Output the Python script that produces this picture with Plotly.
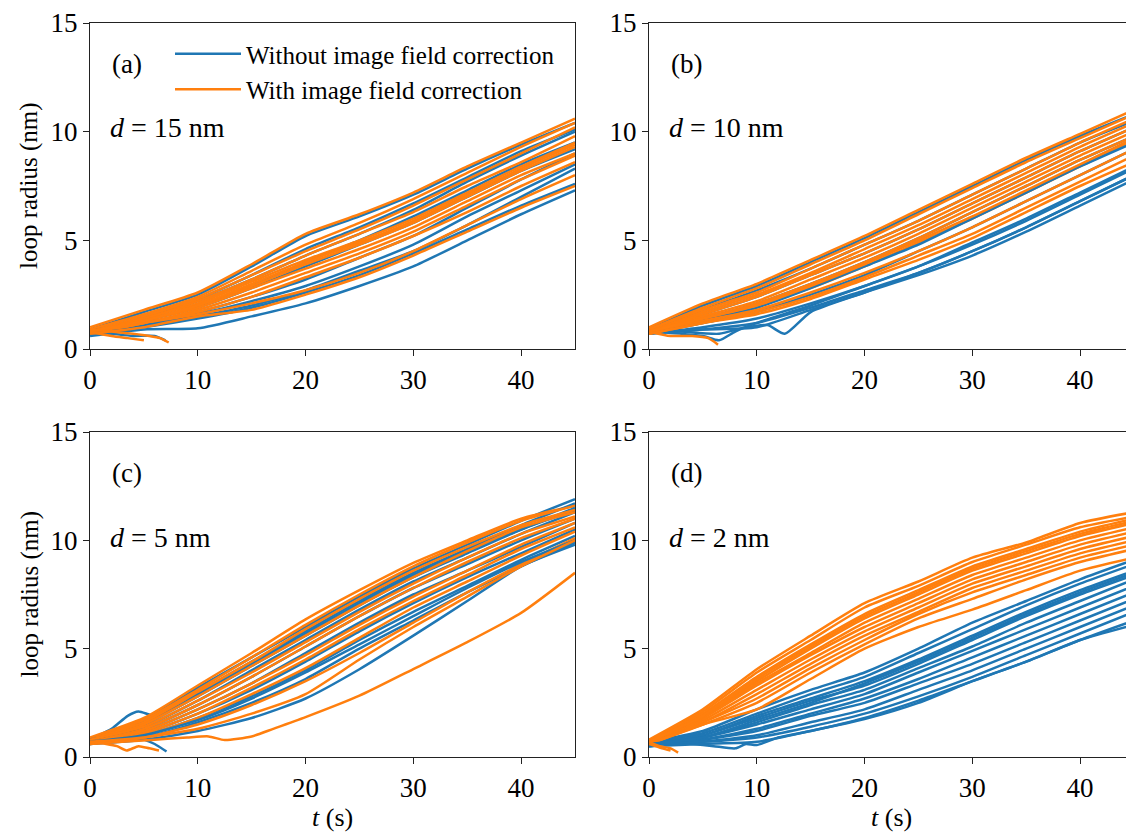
import plotly.graph_objects as go

BLUE = "#1f77b4"
ORANGE = "#ff7f0e"

# common time grid (s)
T_GRID = [0, 5, 10, 15, 20, 25, 30, 35, 40, 45]

# ---------------- panel (a) d = 15 nm ----------------
A_BLUE = [
    [0.9, 1.7, 2.5, 3.8, 5.2, 6.1, 7.1, 8.3, 9.4, 10.4],
    [0.8, 1.5, 2.3, 3.4, 4.6, 5.6, 6.7, 7.9, 9.1, 10.1],
    [0.8, 1.4, 2.2, 3.2, 4.3, 5.3, 6.4, 7.7, 8.9, 10.0],
    [0.7, 1.3, 2.0, 2.9, 4.0, 5.0, 6.1, 7.3, 8.5, 9.5],
    [0.7, 1.3, 1.9, 2.8, 3.8, 4.8, 5.8, 7.0, 8.2, 9.2],
    [0.8, 1.2, 1.7, 2.4, 3.2, 4.2, 5.2, 6.5, 7.8, 9.0],
    [0.7, 1.1, 1.6, 2.2, 2.9, 3.8, 4.8, 6.1, 7.3, 8.5],
    [0.7, 1.1, 1.5, 2.0, 2.7, 3.6, 4.5, 5.7, 7.0, 8.3],
    [0.6, 0.9, 0.95, 1.5, 2.1, 2.9, 3.8, 5.0, 6.2, 7.3],
    [0.7, 1.0, 1.4, 1.9, 2.6, 3.4, 4.4, 5.5, 6.6, 7.6],
]
A_ORANGE = [
    [1.0, 1.8, 2.6, 3.9, 5.3, 6.2, 7.2, 8.4, 9.5, 10.6],
    [0.9, 1.6, 2.4, 3.6, 4.8, 5.8, 6.9, 8.1, 9.3, 10.4],
    [0.8, 1.5, 2.3, 3.4, 4.5, 5.5, 6.6, 7.8, 9.0, 10.2],
    [0.8, 1.4, 2.2, 3.2, 4.3, 5.3, 6.3, 7.5, 8.6, 9.8],
    [0.7, 1.4, 2.1, 3.1, 4.1, 5.0, 6.0, 7.2, 8.4, 9.5],
    [0.8, 1.3, 2.0, 2.9, 3.9, 4.8, 5.8, 7.0, 8.2, 9.3],
    [0.7, 1.3, 1.9, 2.8, 3.7, 4.6, 5.6, 6.8, 8.0, 9.0],
    [0.7, 1.2, 1.8, 2.6, 3.5, 4.4, 5.4, 6.6, 7.8, 8.9],
    [0.7, 1.2, 1.7, 2.4, 3.3, 4.2, 5.2, 6.3, 7.5, 8.6],
    [0.8, 1.2, 1.6, 2.1, 2.7, 3.5, 4.5, 5.7, 6.9, 8.0],
    [0.7, 1.0, 1.5, 1.8, 2.5, 3.3, 4.3, 5.4, 6.5, 7.5],
    [0.8, 1.3, 2.0, 3.0, 4.0, 4.9, 5.9, 7.1, 8.3, 9.4],
]
A_BLUE_SHORT_T = [[0, 2, 4, 6, 7.0]]
A_BLUE_SHORT_R = [[0.8, 0.7, 0.6, 0.6, 0.4]]
A_ORANGE_SHORT_T = [[0, 2, 4, 5.5, 6.5, 7.3], [0, 2, 3.5, 5.0]]
A_ORANGE_SHORT_R = [[0.9, 0.8, 0.7, 0.6, 0.5, 0.3], [0.8, 0.6, 0.5, 0.4]]

# ---------------- panel (b) d = 10 nm ----------------
B_BLUE = [
    [0.9, 2.0, 2.9, 4.0, 5.1, 6.3, 7.5, 8.7, 9.8, 10.8],
    [0.8, 1.8, 2.7, 3.7, 4.8, 5.9, 7.1, 8.3, 9.5, 10.5],
    [0.8, 1.6, 2.4, 3.4, 4.4, 5.5, 6.7, 7.9, 9.1, 10.2],
    [0.7, 1.4, 2.1, 3.0, 4.0, 5.1, 6.3, 7.5, 8.7, 9.8],
    [0.7, 1.2, 1.7, 2.5, 3.4, 4.5, 5.6, 6.8, 8.0, 9.2],
    [0.7, 1.0, 1.4, 2.1, 2.9, 3.8, 4.9, 6.0, 7.2, 8.4],
    [0.7, 0.9, 1.2, 1.9, 2.7, 3.5, 4.5, 5.6, 6.8, 8.0],
    [0.8, 0.9, 1.0, 1.8, 2.6, 3.4, 4.3, 5.4, 6.6, 7.8],
    [0.7, 1.3, 1.9, 2.8, 3.8, 4.8, 6.0, 7.2, 8.4, 9.5],
]
B_ORANGE = [
    [1.0, 2.1, 3.0, 4.1, 5.2, 6.4, 7.6, 8.8, 9.9, 11.0],
    [0.9, 1.9, 2.8, 3.9, 5.0, 6.2, 7.4, 8.6, 9.7, 10.8],
    [0.9, 1.8, 2.6, 3.7, 4.8, 5.9, 7.1, 8.3, 9.5, 10.6],
    [0.8, 1.7, 2.5, 3.5, 4.6, 5.7, 6.9, 8.1, 9.3, 10.4],
    [0.8, 1.6, 2.4, 3.4, 4.4, 5.5, 6.7, 7.9, 9.1, 10.2],
    [0.8, 1.5, 2.2, 3.2, 4.2, 5.3, 6.5, 7.7, 8.9, 10.0],
    [0.7, 1.4, 2.1, 3.0, 4.0, 5.1, 6.3, 7.5, 8.7, 9.8],
    [0.7, 1.3, 2.0, 2.8, 3.8, 4.9, 6.0, 7.2, 8.4, 9.6],
    [0.8, 1.3, 1.8, 2.6, 3.5, 4.5, 5.6, 6.8, 8.0, 9.2],
    [0.7, 1.2, 1.7, 2.4, 3.3, 4.3, 5.3, 6.5, 7.7, 8.9],
    [0.7, 1.2, 1.6, 2.3, 3.2, 4.1, 5.1, 6.3, 7.5, 8.6],
    [0.8, 1.4, 2.0, 2.9, 3.9, 5.0, 6.1, 7.3, 8.5, 9.7],
]
B_BLUE_SHORT_T = [[0, 3, 6.5, 9, 11, 12.6, 15, 20, 25, 30, 35, 40, 45],
                  [0, 3, 5, 6.5, 8, 10, 15, 20, 25, 30, 35, 40, 45]]
B_BLUE_SHORT_R = [[0.9, 0.8, 0.7, 1.0, 1.1, 0.7, 1.7, 2.6, 3.5, 4.5, 5.6, 6.8, 8.0],
                  [0.8, 0.7, 0.6, 0.4, 0.8, 1.2, 2.0, 2.9, 3.8, 4.8, 5.9, 7.1, 8.3]]
B_ORANGE_SHORT_T = [[0, 2, 4, 5.5, 6.4]]
B_ORANGE_SHORT_R = [[0.8, 0.6, 0.6, 0.5, 0.2]]

# ---------------- panel (c) d = 5 nm ----------------
C_BLUE = [
    [0.8, 1.7, 3.2, 4.6, 6.0, 7.4, 8.7, 9.8, 10.9, 11.9],
    [0.8, 1.6, 3.0, 4.4, 5.8, 7.2, 8.5, 9.6, 10.7, 11.7],
    [0.7, 1.5, 2.8, 4.2, 5.6, 7.0, 8.3, 9.4, 10.5, 11.5],
    [0.7, 1.4, 2.6, 4.0, 5.4, 6.8, 8.1, 9.2, 10.3, 11.3],
    [0.8, 1.3, 2.4, 3.7, 5.1, 6.5, 7.8, 8.9, 10.0, 11.0],
    [0.7, 1.2, 2.2, 3.4, 4.8, 6.2, 7.5, 8.6, 9.7, 10.8],
    [0.7, 1.1, 2.0, 3.1, 4.4, 5.8, 7.1, 8.3, 9.4, 10.5],
    [0.6, 1.0, 1.8, 2.8, 4.0, 5.4, 6.7, 7.9, 9.1, 10.2],
    [0.7, 0.9, 1.6, 2.5, 3.6, 5.0, 6.3, 7.6, 8.8, 9.9],
    [0.6, 0.8, 1.2, 1.8, 2.7, 4.05, 5.6, 7.2, 8.8, 9.8],
    [0.7, 1.0, 1.7, 2.7, 3.9, 5.2, 6.5, 7.8, 9.0, 10.0],
]
C_ORANGE = [
    [0.9, 1.8, 3.3, 4.8, 6.35, 7.7, 8.96, 10.0, 11.0, 11.6],
    [0.8, 1.7, 3.1, 4.6, 6.1, 7.5, 8.8, 9.9, 10.9, 11.6],
    [0.8, 1.6, 3.0, 4.4, 5.9, 7.3, 8.6, 9.7, 10.7, 11.4],
    [0.7, 1.5, 2.8, 4.2, 5.6, 7.0, 8.3, 9.5, 10.6, 11.3],
    [0.8, 1.4, 2.6, 3.9, 5.3, 6.7, 8.0, 9.2, 10.3, 11.1],
    [0.7, 1.3, 2.4, 3.7, 5.1, 6.5, 7.8, 9.0, 10.1, 11.0],
    [0.7, 1.2, 2.2, 3.4, 4.7, 6.1, 7.4, 8.6, 9.8, 10.8],
    [0.6, 1.1, 2.0, 3.2, 4.5, 5.9, 7.2, 8.4, 9.6, 10.6],
    [0.7, 1.0, 1.8, 2.9, 4.1, 5.5, 6.9, 8.1, 9.3, 10.4],
    [0.6, 0.9, 1.5, 2.4, 3.5, 4.8, 6.2, 7.6, 8.9, 10.1],
    [0.7, 0.9, 1.3, 2.0, 2.9, 4.5, 6.0, 7.4, 8.8, 10.0],
]
C_BLUE_SHORT_T = [[0, 2, 3, 4, 5, 6, 7.1], [0, 2, 3.5, 4.5, 6, 8, 10, 15, 20, 25, 30, 35, 40, 45]]
C_BLUE_SHORT_R = [[0.7, 0.9, 1.0, 0.9, 0.8, 0.6, 0.25],
                  [0.8, 1.3, 1.9, 2.1, 1.9, 2.3, 2.9, 4.3, 5.7, 7.1, 8.4, 9.5, 10.5, 11.4]]
C_ORANGE_SHORT_T = [[0, 3, 6, 9, 11, 12.5, 15, 17, 20, 25, 30, 35, 40, 45],
                    [0, 1.5, 2.5, 3.4, 4.5, 5.5, 6.4]]
C_ORANGE_SHORT_R = [[0.6, 0.7, 0.8, 0.9, 0.95, 0.78, 0.95, 1.3, 1.84, 2.83, 4.06, 5.3, 6.65, 8.5],
                    [0.7, 0.6, 0.5, 0.3, 0.5, 0.4, 0.3]]

# ---------------- panel (d) d = 2 nm ----------------
D_BLUE = [
    [0.7, 1.2, 2.2, 3.1, 3.9, 5.0, 6.2, 7.2, 8.2, 9.1],
    [0.7, 1.1, 2.0, 2.9, 3.7, 4.8, 5.9, 7.0, 8.0, 8.9],
    [0.6, 1.0, 1.9, 2.7, 3.5, 4.5, 5.6, 6.7, 7.7, 8.6],
    [0.6, 1.0, 1.8, 2.6, 3.3, 4.3, 5.4, 6.5, 7.5, 8.4],
    [0.6, 0.9, 1.6, 2.4, 3.1, 4.1, 5.1, 6.2, 7.2, 8.2],
    [0.6, 0.9, 1.5, 2.2, 2.9, 3.9, 4.9, 5.9, 6.9, 7.9],
    [0.5, 0.8, 1.3, 2.0, 2.7, 3.6, 4.6, 5.6, 6.6, 7.6],
    [0.6, 0.8, 1.2, 1.9, 2.5, 3.4, 4.3, 5.3, 6.3, 7.3],
    [0.5, 0.7, 1.0, 1.6, 2.2, 3.1, 4.0, 5.0, 6.0, 7.0],
    [0.6, 0.7, 0.9, 1.4, 2.0, 2.8, 3.7, 4.7, 5.7, 6.7],
    [0.5, 0.6, 0.7, 1.2, 1.8, 2.6, 3.5, 4.4, 5.4, 6.3],
    [0.6, 0.9, 1.7, 2.5, 3.4, 4.4, 5.5, 6.6, 7.6, 8.5],
]
D_ORANGE = [
    [0.8, 2.2, 4.05, 5.6, 7.1, 8.1, 9.2, 9.9, 10.8, 11.3],
    [0.7, 2.1, 3.9, 5.4, 6.9, 7.9, 9.0, 9.8, 10.6, 11.1],
    [0.7, 2.0, 3.7, 5.2, 6.6, 7.7, 8.8, 9.6, 10.4, 11.0],
    [0.7, 1.9, 3.5, 5.0, 6.4, 7.5, 8.6, 9.4, 10.2, 10.8],
    [0.6, 1.8, 3.4, 4.8, 6.2, 7.3, 8.4, 9.2, 10.0, 10.6],
    [0.6, 1.8, 3.3, 4.7, 6.0, 7.1, 8.2, 9.0, 9.8, 10.4],
    [0.7, 1.7, 3.1, 4.5, 5.8, 6.9, 8.0, 8.8, 9.6, 10.2],
    [0.6, 1.6, 2.9, 4.3, 5.6, 6.7, 7.8, 8.6, 9.4, 10.0],
    [0.6, 1.6, 2.7, 4.1, 5.4, 6.6, 7.6, 8.4, 9.2, 9.8],
    [0.6, 1.5, 2.5, 3.9, 5.2, 6.4, 7.3, 8.2, 9.0, 9.6],
    [0.6, 1.5, 2.2, 3.6, 5.0, 6.0, 6.8, 7.7, 8.6, 9.2],
    [0.7, 1.9, 3.6, 5.1, 6.5, 7.6, 8.7, 9.5, 10.3, 10.9],
]
D_BLUE_SHORT_T = [[0, 2, 4, 6, 8, 9, 10, 12, 15, 20, 25, 30, 35, 40, 45]]
D_BLUE_SHORT_R = [[0.6, 0.7, 0.6, 0.5, 0.4, 0.6, 0.55, 0.9, 1.2, 1.75, 2.5, 3.5, 4.4, 5.4, 6.1]]
D_ORANGE_SHORT_T = [[0, 1, 2, 2.7], [0, 1.2, 2.0]]
D_ORANGE_SHORT_R = [[0.7, 0.5, 0.4, 0.2], [0.6, 0.4, 0.3]]

PANEL_LABELS = ["(a)", "(b)", "(c)", "(d)"]
D_VALUES = ["15", "10", "5", "2"]
X_TICKS = [0, 10, 20, 30, 40]
Y_TICKS = [0, 5, 10, 15]

FONT = "Liberation Serif"
W, H = 1126, 833

fig = go.Figure()

panels = [
    (A_BLUE, A_ORANGE, A_BLUE_SHORT_T, A_BLUE_SHORT_R, A_ORANGE_SHORT_T, A_ORANGE_SHORT_R),
    (B_BLUE, B_ORANGE, B_BLUE_SHORT_T, B_BLUE_SHORT_R, B_ORANGE_SHORT_T, B_ORANGE_SHORT_R),
    (C_BLUE, C_ORANGE, C_BLUE_SHORT_T, C_BLUE_SHORT_R, C_ORANGE_SHORT_T, C_ORANGE_SHORT_R),
    (D_BLUE, D_ORANGE, D_BLUE_SHORT_T, D_BLUE_SHORT_R, D_ORANGE_SHORT_T, D_ORANGE_SHORT_R),
]

line_w = 2.5
for p, (blue, orange, bst, bsr, ost, osr) in enumerate(panels):
    xa = "x" if p == 0 else f"x{p+1}"
    ya = "y" if p == 0 else f"y{p+1}"
    for tt, rr in zip(bst, bsr):
        fig.add_trace(go.Scatter(x=tt, y=rr, mode="lines", xaxis=xa, yaxis=ya,
                                 line=dict(color=BLUE, width=line_w, shape="spline", smoothing=0.6),
                                 showlegend=False, hoverinfo="skip"))
    n = max(len(blue), len(orange))
    for i in range(n):
        if i < len(blue):
            fig.add_trace(go.Scatter(x=T_GRID, y=blue[i], mode="lines", xaxis=xa, yaxis=ya,
                                     line=dict(color=BLUE, width=line_w, shape="spline", smoothing=0.6),
                                     name="Without image field correction",
                                     showlegend=(p == 0 and i == 0), legendrank=1,
                                     hoverinfo="skip"))
        if i < len(orange):
            fig.add_trace(go.Scatter(x=T_GRID, y=orange[i], mode="lines", xaxis=xa, yaxis=ya,
                                     line=dict(color=ORANGE, width=line_w, shape="spline", smoothing=0.6),
                                     name="With image field correction",
                                     showlegend=(p == 0 and i == 0), legendrank=2,
                                     hoverinfo="skip"))
    for tt, rr in zip(ost, osr):
        fig.add_trace(go.Scatter(x=tt, y=rr, mode="lines", xaxis=xa, yaxis=ya,
                                 line=dict(color=ORANGE, width=line_w, shape="spline", smoothing=0.6),
                                 showlegend=False, hoverinfo="skip"))

# domains (pixel-measured)
xl = [90 / W, 575 / W]
xr = [649 / W, 1.0]
yt = [1 - 349 / H, 1 - 23 / H]
yb = [1 - 757 / H, 1 - 432 / H]
x_right_max = (W - 649) / ((575 - 90) / 45.0)

axis_common = dict(showgrid=False, zeroline=False, showline=True, linecolor="#222222",
                   linewidth=1.2, ticks="outside", ticklen=6, tickwidth=1.2, tickcolor="#222222",
                   automargin=False,
                   tickfont=dict(family=FONT, size=27, color="black"))

layout_axes = {}
specs = [(xl, yt, 45), (xr, yt, x_right_max), (xl, yb, 45), (xr, yb, x_right_max)]
for p, (xd, yd, xmax) in enumerate(specs):
    xn = "xaxis" if p == 0 else f"xaxis{p+1}"
    yn = "yaxis" if p == 0 else f"yaxis{p+1}"
    ya = "y" if p == 0 else f"y{p+1}"
    xa = "x" if p == 0 else f"x{p+1}"
    layout_axes[xn] = dict(axis_common, domain=xd, range=[0, xmax], anchor=ya,
                           tickvals=X_TICKS, mirror=True)
    layout_axes[yn] = dict(axis_common, domain=yd, range=[0, 15], anchor=xa,
                           tickvals=Y_TICKS, mirror=(xmax == 45))

annotations = []
for p, (xd, yd, xmax) in enumerate(specs):
    x0px = xd[0] * W
    ytop = (1 - yd[1]) * H
    annotations.append(dict(xref="paper", yref="paper", x=(x0px + 20) / W, y=1 - (ytop + 41) / H,
                            text=PANEL_LABELS[p], showarrow=False, xanchor="left", yanchor="middle",
                            font=dict(family=FONT, size=27, color="black")))
    annotations.append(dict(xref="paper", yref="paper", x=(x0px + 18) / W, y=1 - (ytop + 105) / H,
                            text=f"<i>d</i> = {D_VALUES[p]} nm", showarrow=False,
                            xanchor="left", yanchor="middle",
                            font=dict(family=FONT, size=28, color="black")))
# axis titles
for yd in (yt, yb):
    annotations.append(dict(xref="paper", yref="paper", x=29 / W, y=(yd[0] + yd[1]) / 2,
                            text="loop radius (nm)", textangle=-90, showarrow=False,
                            xanchor="center", yanchor="middle",
                            font=dict(family=FONT, size=25, color="black")))
for xd in (xl, xr):
    cx = (xd[0] * W + 485 / 2) / W
    annotations.append(dict(xref="paper", yref="paper", x=cx, y=1 - 817 / H,
                            text="<i>t</i> (s)", showarrow=False, xanchor="center", yanchor="middle",
                            font=dict(family=FONT, size=26, color="black")))

fig.update_layout(
    width=W, height=H,
    margin=dict(l=0, r=0, t=0, b=0, pad=0, autoexpand=False),
    paper_bgcolor="white", plot_bgcolor="white",
    font=dict(family=FONT, color="black"),
    showlegend=True,
    legend=dict(x=170 / W, y=1 - 31 / H, xanchor="left", yanchor="top",
                bgcolor="rgba(0,0,0,0)", font=dict(family=FONT, size=25, color="black"),
                tracegroupgap=0, itemwidth=66),
    annotations=annotations,
    **layout_axes,
)

fig.write_html("out.html")
